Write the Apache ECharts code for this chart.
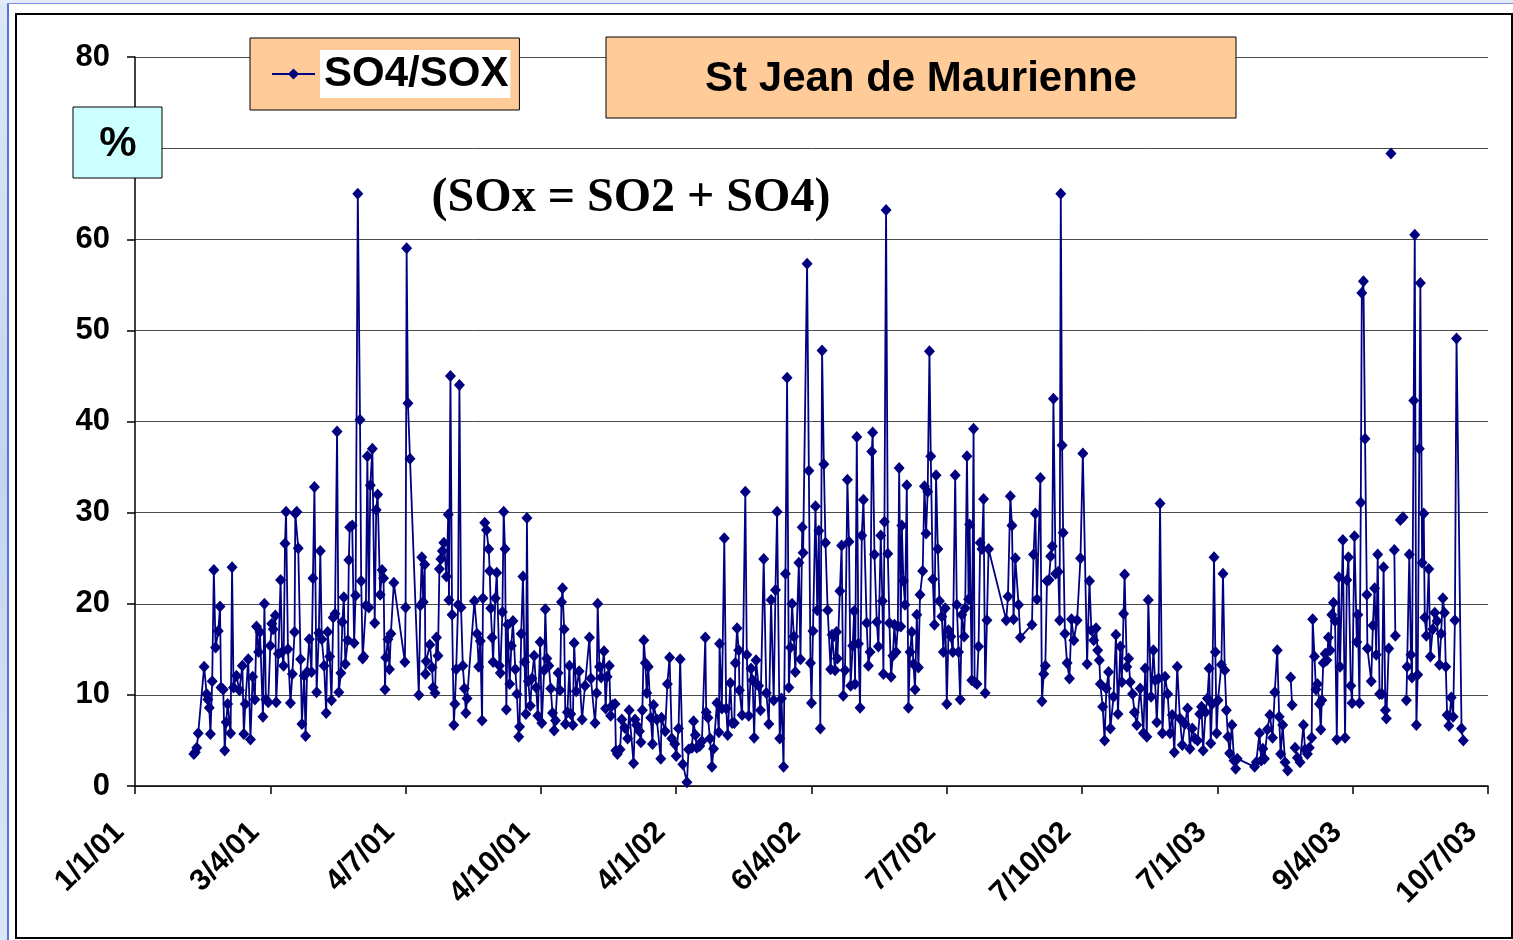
<!DOCTYPE html>
<html>
<head>
<meta charset="utf-8">
<title>SO4/SOX - St Jean de Maurienne</title>
<script src="https://cdn.jsdelivr.net/npm/echarts@6/dist/echarts.min.js"></script>
<style>
  html, body { margin: 0; padding: 0; background: #fff; }
  #slideLeft { position: absolute; left: 0; top: 0; width: 7px; height: 940px;
    background: linear-gradient(180deg, #dce8f7, #c3d6ee 50%, #dbe7f6); }
  #slideTop { position: absolute; left: 0; top: 0; width: 1513px; height: 3px; background: #e2ecf8; }
  #blueV { position: absolute; left: 7px; top: 3px; width: 2px; height: 937px; background: #5d72d8; }
  #blueH { position: absolute; left: 7px; top: 3px; width: 1506px; height: 1px; background: #8090e0; }
  #frame { position: absolute; left: 15px; top: 13px; width: 1494px; height: 922px; border: 2px solid #000; }
  #main { position: absolute; left: 0; top: 0; width: 1513px; height: 940px; }
</style>
</head>
<body>
<div id="slideLeft"></div>
<div id="slideTop"></div>
<div id="blueV"></div>
<div id="blueH"></div>
<div id="frame"></div>
<div id="main"></div>
<script>
// x = days since 1/1/01, ticks every 92 days
const xLabels = ['1/1/01', '3/4/01', '4/7/01', '4/10/01', '4/1/02', '6/4/02', '7/7/02', '7/10/02', '7/1/03', '9/4/03', '10/7/03']

// [day, SO4/SOX %]
const readings2001 = [
  [40,3.5],[41,3.7],[42,4.2],[43,5.8],[47,13.1],[48.7,10.1],[49.5,9.5],[50.5,8.6],[51.3,5.7],[52.5,11.5],
  [53.6,23.7],[54.8,15.2],[56.6,17],[57.8,19.7],[58.5,10.8],[60,10.6],[61,3.9],[62,7],[63,9],[65,5.8],
  [66,24],[67,10.8],[69,12.1],[71,10.5],[73,13.2],[74,5.7],[75,9],[77,13.9],[78.5,5.1],[80,12],
  [81.5,9.5],[82.6,17.5],[84,14.7],[85,16.9],[87,7.6],[88,20],[89,9.5],[90.6,9.2],[92,15.4],[93,17.8],
  [94,17.2],[95.4,18.7],[96,9.2],[97.5,14.5],[99,22.6],[100,14.7],[101,13.2],[102,26.6],[102.7,30.1],[104,15],
  [105.7,9.1],[107,12.3],[108.5,16.9],[109,29.9],[110,30.1],[111,26.1],[112.6,13.9],[113.5,6.8],[115,12.1],[116,5.5],
  [117,12.5],[118.5,16.1],[120,12.5],[121,22.8],[122,32.8],[123.5,10.3],[125,16.8],[126,25.8],[127,16.1],[128.6,13.2],
  [130,8],[131,16.9],[132.4,14.2],[133.6,9.4],[134.8,18.5],[136,18.9],[137.4,38.9],[138.6,10.3],[140,12.4],[141,18],
  [142,20.7],[143,13.4],[144.7,16],[145.4,24.8],[146,28.4],[147.7,28.6],[149,15.7],[150,20.9],[151.5,65],[153,40.2],
  [153.8,22.5],[154.8,14],[155.5,14.2],[157,19.8],[158,36.2],[159,19.6],[160,33],[161.4,37],[163,17.9],[164,30.3],
  [165,32],[166.7,21],[168,23.7],[169,22.8],[170,10.6],[170.5,14.1],[172,16.1],[173,12.8],[174,16.7],[176,22.3],
  [183.5,13.6],[184,19.6],[184.7,59],[185.6,42],[187,35.9],[193,10],[194,19.8],[195,25.1],[196,20.2],[197,24.3],
  [197.5,12.3],[198,13.7],[200.5,15.5],[202,13],[202.7,10.8],[204,10.2],[205,16.3],[206,14.3],[207,23.8],[208,24.9],
  [209,25.8],[210,26.7],[211.8,23],[213,29.8],[213.5,20.4],[214.5,45],[215.6,18.8],[216.8,6.7],[217.5,9],[218.4,12.8],
  [219.7,19.9],[220.6,44],[221.7,19.6],[222.9,13.2],[224,10.7],[225,8],[225.8,9.6],[230.8,20.3],[232.6,16.7],[233.7,13.1],
  [234.8,15.9],[236,7.2],[236.6,20.6],[237.8,28.9],[239,28.1],[240.5,26],[241.2,23.6],[241.9,19.5],[242.8,16.3],[243.5,13.6],
  [245,20.6],[246,23.4],[247.8,13.2],[248.4,12.4],[249.8,19.1],[250.7,30.1],[251.6,26],[252.5,8.4],[253.4,17.7],[254.8,11.2],
  [255.9,15.4],[257,18.1],[258.6,12.8],[259.7,10.1],[260.9,5.4],[261.5,6.5],[262.6,16.7],[263.8,23],[264.9,13.6],[265.8,7.9],
  [266.5,29.4],[267.4,11.5],[268.8,8.8],[269.9,11.8],[271.4,14.3],[272.8,10.8],[273.9,7.7],[275.5,15.8],[276.6,6.9],[278.2,12.7],
  [279,19.4],[280,14],[281.4,13.2],[282.7,10.7],[283.9,8],[285,6.1],[285.9,7.2],[287.7,12.4],[289,10.5],[290,20.2],
  [290.7,21.7],[291.8,17.2],[292.7,6.8],[294,8.1],[295.4,13.2],[296.3,7.9],[297.7,6.7],[298.6,15.7],[300,10.4],[302,12.6],
  [304,7.3],[306,11],[309,16.3],[310,11.8],[312.8,6.9],[313.9,10.2],[314.6,20],[315.8,13.1],[317,11.9],[318.9,14.8],
  [320,8.5],[321,12],[322.5,13.2],[323.4,7.7],[324.8,8.9],[326.4,9],[327,3.9],[328,3.5],[329.8,4],[331,7.3],
  [333,6.4],[335,5.2],[336,8.3],[339,2.5],[340,7.3],[341,6.7],[343,6],[344,4.8],[345,8.3],[346,16],
  [347,13.5],[348,10.2],[349,13.1],[350.7,7.5],[351.9,4.6],[352.6,8.9],[354.8,7.3],[357.5,3],[358,7.5],[360.5,6],
  [362,11.2],[363.5,14.1]
]

const readings2002 = [
  [365,5.2],[367,4.6],[368,3.3],[369.6,6.3],[370.7,13.9],[372.5,2.4],[375.3,0.4],[376.4,4],[378.7,4.2],[379.8,7.1],
  [381,5.6],[382,4.2],[384,4.4],[385.5,4.9],[387.8,16.3],[388.4,8.1],[389.6,7.5],[391,5.2],[392.3,2.1],[393.4,4.1],
  [395.7,9.1],[397,5.9],[397.5,15.6],[399,8.5],[400.7,27.2],[402,8.5],[403,5.6],[404.8,11.3],[406,6.9],[407.5,6.9],
  [408.2,13.5],[409.4,17.3],[410.5,14.9],[411,10.5],[412.8,7.8],[415,32.3],[416,14.4],[417.3,7.7],[418.9,12.9],[420,11.6],
  [421,5.3],[422.3,13.8],[424,11],[425.3,8.3],[427.5,24.9],[429.3,10.2],[431,6.8],[432.5,20.4],[434.3,9.4],[435.5,21.5],
  [436.6,30.1],[438.4,5.2],[439.6,9.6],[441,2.1],[442.3,23.3],[443.4,44.8],[444.6,10.8],[445.7,15.2],[446.8,20],[448,16.4],
  [449,12.5],[451.4,24.5],[452.5,13.9],[453.7,28.4],[454.3,25.6],[457,57.3],[458.2,34.6],[459.3,13.5],[460,9.1],[461,17],
  [462.7,30.7],[463.9,19.3],[465,28],[466,6.3],[467.2,47.8],[468.4,35.3],[469.5,26.7],[471,19.3],[473,12.8],[474,16.6],
  [475,16.4],[476,12.7],[477,16.9],[477.6,14],[479.3,21.4],[480.5,26.4],[481.6,9.9],[482.8,12.7],[484.4,33.6],[485.5,26.8],
  [486.6,11],[488,15.4],[489,19.2],[489.6,11.2],[490.8,38.3],[491.9,15.6],[493,8.6],[494.2,27.5],[495.3,31.4],[497.5,17.9],
  [498.7,13.2],[499.8,14.7],[501,36.7],[501.6,38.8],[502.8,25.4],[504.4,18],[505.5,15.3],[507.1,27.5],[508.2,20.3],[508.9,12.3],
  [509.6,29],[510.7,63.2],[511.9,25.5],[513,17.9],[514.1,12],[515.3,14.3],[516.4,17.7],[517.5,14.7],[518.7,17.5],[519.6,34.9],
  [520.7,17.5],[521.4,28.6],[522.5,22.5],[523.6,19.9],[524.8,33],[525.9,8.6],[527,14.7],[528.2,16.9],[529.3,13.4],[530.4,10.6],
  [531.6,18.8],[532.7,13],[533.8,21],[535.6,23.6],[536.8,32.9],[537.9,27.7],[539,32.3],[540.2,47.7],[541.1,36.2],[542.5,22.7],
  [543.6,17.7],[544.7,34.1],[545.9,26],[547,20.3],[548.6,18.6],[549.7,14.7],[550.9,19.5],[552,9],[553.2,17.1],[554.7,16.4],
  [556.1,14.7],[557.7,34.1],[558.8,19.9],[560,14.7],[561.1,9.5],[562.2,18.8],[563.8,16.4],[564.5,19.5],[565.7,36.2],[566.8,20.5],
  [567.5,28.7],[569,11.6],[570.2,39.2],[570.9,11.4],[572.5,11.2],[573.6,15.3],[574.7,26.7],[575.9,26],[577,31.5],[578.1,10.2],
  [579.3,18.2],[580.4,26],[592.4,18.2],[593.6,20.8],[595.2,31.8],[596.3,28.6],[597.4,18.3],[598.6,25],[600.8,19.9],[602,16.3],
  [609.9,17.7],[611,25.4],[612.2,29.9],[613.3,20.5],[615.6,33.8],[616.7,9.3],[617.9,12.3],[619,13.2],[620.1,22.5],[621.5,22.6],
  [622.6,25.2],[623.7,26.3],[624.5,42.5],[626,23.3],[627.8,23.5],[628.7,18.2],[629.5,65],[630.4,37.4],[631.1,27.8],[632.3,16.7],
  [633.8,13.5],[635.4,11.8],[636.8,18.3],[638.4,16],[640.6,18.2],[642.9,25],[644.5,36.5],[647.4,13.4],[649,22.5],[650.3,17.1],
  [651.9,16],[653.5,17.3],[654.6,14.9],[655.7,13.8],[656.4,11.2],[658,8.7],[659.3,5],[660.5,10.7],[662,12.5],[663.2,6.3],
  [665.4,9.8],[667,16.6],[668.4,7.9],[670,15.3],[671,11.4],[672.2,18.9],[672.9,23.2],[674.4,13.1],[675.6,14],[676.7,11.4],
  [678.3,10.1],[679.6,8.1],[681.2,6.7],[683.5,10.7],[685.7,5.8],[686.9,12.9],[688,5.4],[689,20.4],[690.9,9.8],[692.5,14.9],
  [693.6,11.6],[694.8,7],[696,11.8],[697,31],[698.6,5.8],[700.4,12],[702.2,10.1],[703.8,5.8],[705.3,7.8],[706.7,3.7],
  [708.7,13.1],[710.5,7.4],[712.1,4.5],[713.9,6.8],[715.7,8.5],[717.3,4.1],[718.9,6.3],[720.7,5.2],[722.5,5],[724,7.9],
  [725.2,8.7],[726.3,3.9],[727.9,8.1],[729.2,9.6]
]

// null = missing day (line broken)
const readings2003 = [
  [730.4,12.9],[731.5,4.7],[732.4,9],[733.7,25.1],[734.6,14.7],[735.5,5.8],[736.4,9.4],[738.7,13.3],[739.8,23.3],[741,12.7],
  [742.1,8.3],[743.2,5.4],[744.3,3.6],[745.9,6.7],[747.3,2.8],[748.4,1.9],[749.5,3],[761.3,2.1],[762.4,2.6],[764.6,5.8],
  [765.8,2.8],[766.9,4.1],[768,3],[770,6.2],[771.7,7.8],[773.5,5.3],[775,10.3],[776.7,14.9],[778,7.6],[779,3.5],
  [780.4,6.7],[782,2.6],[783.8,1.7],[785,null],[785.8,11.9],[786.8,8.9],[787.5,null],[788.8,4.2],[790.4,3.1],[792.2,2.6],
  [794.5,6.7],[795.6,4],[797.2,3.5],[798.5,4.2],[800.1,5.3],[800.8,18.3],[802,14.2],[803,10.6],[804,11.2],[805.4,9],
  [806.3,6.2],[807,9.4],[808,13.5],[809.3,14.5],[810.4,13.8],[811.5,16.3],[812.7,14.9],[813.8,18.8],[814.9,20.1],[816,18.1],
  [817.2,5.1],[818.5,22.9],[819.4,13.1],[821.3,27],[822.8,5.3],[824,22.6],[825.1,25.1],[826.7,11],[827.6,9.1],[829.2,27.4],
  [830.8,15.8],[831.5,18.8],[832.6,9.1],[833.5,31.1],[834.2,54.1],[835.3,55.4],[836.4,38.1],[837.6,21],[838,15.1],[840.6,11.5],
  [841.7,17.6],[842.9,21.7],[844,14.4],[845,25.4],[846.3,10.1],[847.9,10.1],[849,24],[850.2,8.3],[850.9,7.4],[852.5,15.1],
  [853.2,null],[854,69.4],[855,null],[856.3,25.9],[857,16.5],[858,null],[860.4,29.2],[862.2,29.5],[863,null],[864.5,9.4],
  [865,13.1],[866.5,25.4],[867.6,14.4],[868.3,11.9],[869.5,42.3],[870.2,60.5],[871.3,6.7],[872.2,12.2],[873.3,37],[874,55.2],
  [875.2,24.5],[876.3,29.9],[877,18.5],[878.1,16.5],[879.7,23.8],[880.8,14.2],[882.4,17.2],[883.8,19],[885.4,18.1],[887,13.3],
  [888.1,16.7],[889.3,20.6],[890.4,19],[891.3,13.1],[892.2,7.8],[893.4,6.6],[895,9.7],[896.3,7.6],[897.5,18.2],[898.6,49.1],
  [902,6.3],[903.2,5]
]

const seriesData = readings2001.concat(readings2002, readings2003)
  .map(p => [p[0], p[1] === null ? '-' : p[1]])

const font = 'Liberation Sans, Arial, sans-serif'

let myChart = echarts.init(document.getElementById('main'))

myChart.setOption({
    animation: false,
    grid: {
        left: 135,
        right: 25,
        top: 57,
        bottom: 154
    },
    legend: {
        left: 250,
        top: 38,
        padding: [12, 9, 12, 21],
        itemWidth: 43,
        itemHeight: 14,
        backgroundColor: '#ffcc99',
        borderColor: '#000',
        borderWidth: 1,
        textStyle: {
            fontFamily: font,
            fontSize: 42,
            fontWeight: 'bold',
            color: '#000',
            backgroundColor: '#fff',
            padding: [3, 2, 3, 4]
        },
        data: ['SO4/SOX']
    },
    xAxis: {
        type: 'value',
        min: 0,
        max: 920,
        interval: 92,
        axisLine: { lineStyle: { color: '#000', width: 1.5 } },
        axisTick: { show: true, length: 8, lineStyle: { color: '#000', width: 1.5 } },
        splitLine: { show: false },
        axisLabel: {
            rotate: 45,
            margin: 26,
            padding: [0, 22, 0, 0],
            fontFamily: font,
            fontSize: 30,
            fontWeight: 'bold',
            color: '#000',
            formatter: function (v) {
                return xLabels[Math.round(v / 92)]
            }
        }
    },
    yAxis: {
        type: 'value',
        min: 0,
        max: 80,
        interval: 10,
        axisLine: { show: true, lineStyle: { color: '#000', width: 1.5 } },
        axisTick: { show: true, length: 8, lineStyle: { color: '#000', width: 1.5 } },
        splitLine: { show: true, lineStyle: { color: '#4a4a4a', width: 1 } },
        axisLabel: {
            margin: 25,
            fontFamily: font,
            fontSize: 31,
            fontWeight: 'bold',
            color: '#000'
        }
    },
    graphic: [
        {
            type: 'rect', z: 100,
            shape: { x: 73, y: 107, width: 89, height: 71 },
            style: { fill: '#ccffff', stroke: '#000', lineWidth: 1 }
        },
        {
            type: 'text', z: 101, x: 118, y: 144,
            style: { text: '%', font: 'bold 42px ' + font, fill: '#000', align: 'center', verticalAlign: 'middle' }
        },
        {
            type: 'rect', z: 100,
            shape: { x: 606, y: 37, width: 630, height: 81 },
            style: { fill: '#ffcc99', stroke: '#000', lineWidth: 1 }
        },
        {
            type: 'text', z: 101, x: 921, y: 79,
            style: { text: 'St Jean de Maurienne', font: 'bold 42px ' + font, fill: '#000', align: 'center', verticalAlign: 'middle' }
        },
        {
            type: 'text', z: 101, x: 631, y: 199,
            style: { text: '(SOx = SO2 + SO4)', font: 'bold 48px Liberation Serif, Times New Roman, serif', fill: '#000', align: 'center', verticalAlign: 'middle' }
        }
    ],
    series: [
        {
            name: 'SO4/SOX',
            type: 'line',
            data: seriesData,
            connectNulls: false,
            symbol: 'diamond',
            symbolSize: [11, 12],
            showSymbol: true,
            color: '#000080',
            lineStyle: { color: '#000080', width: 1.8 },
            itemStyle: { color: '#000080' }
        }
    ]
})
</script>
</body>
</html>
